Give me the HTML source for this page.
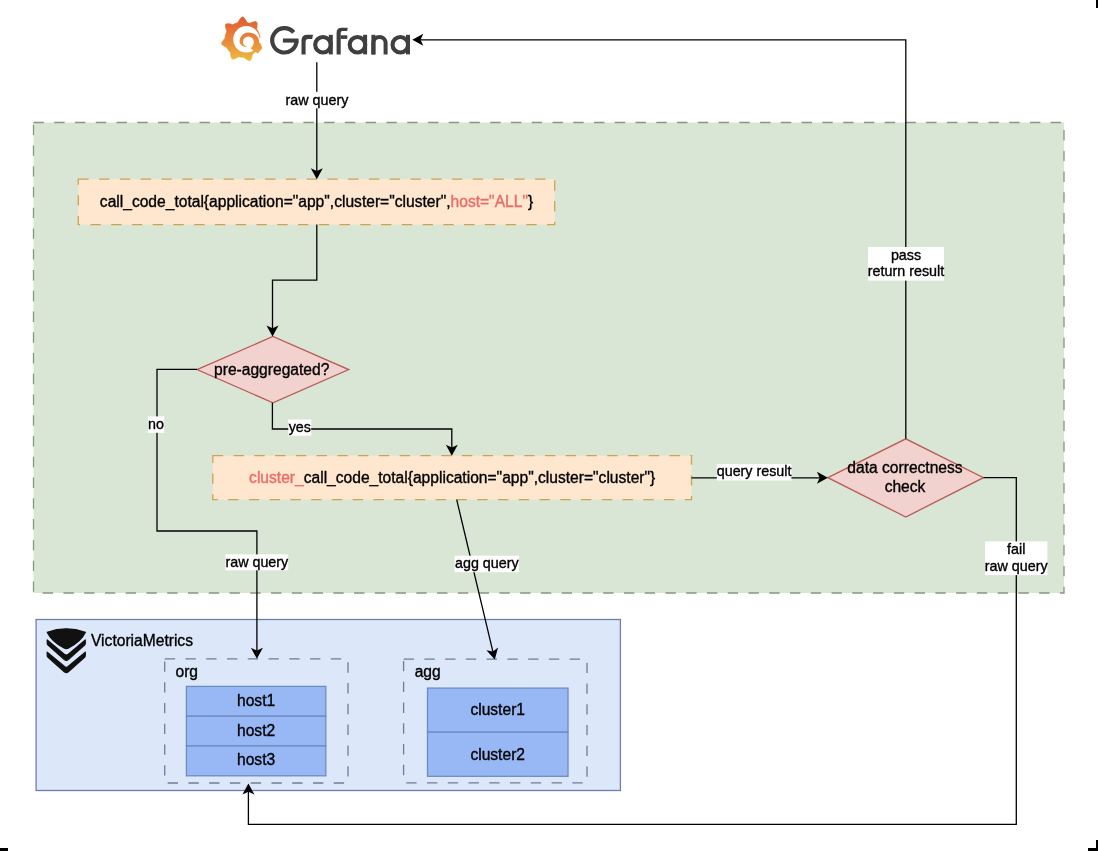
<!DOCTYPE html>
<html>
<head>
<meta charset="utf-8">
<style>
html,body{margin:0;padding:0;background:#fff;width:1098px;height:851px;overflow:hidden;}
svg{display:block;will-change:transform;}
text{font-family:"Liberation Sans",sans-serif;fill:#000;stroke:#000;stroke-width:0.35px;}
tspan.r{fill:#ea6b66;stroke:#ea6b66;}
.sl{font-size:15.6px;}
.el{font-size:14.3px;}
.ln{fill:none;stroke:#000;stroke-width:1.3;}
</style>
</head>
<body>
<svg width="1098" height="851" viewBox="0 0 1098 851">
<defs>
<linearGradient id="gg" gradientUnits="userSpaceOnUse" x1="0" y1="17" x2="0" y2="61"><stop offset="0" stop-color="#e05a32"/><stop offset="0.5" stop-color="#e8853a"/><stop offset="1" stop-color="#edbb3e"/></linearGradient>
<linearGradient id="gg2" gradientUnits="userSpaceOnUse" x1="0" y1="30" x2="0" y2="54"><stop offset="0" stop-color="#f26b26"/><stop offset="1" stop-color="#f7a81a"/></linearGradient>
</defs>

<!-- corner marks -->
<rect x="1096" y="0" width="2" height="8" fill="#000"/>
<rect x="0" y="848" width="8" height="3" fill="#000"/>
<rect x="1096" y="840" width="2" height="11" fill="#000"/>
<rect x="1088" y="848" width="10" height="3" fill="#000"/>

<!-- green container -->
<rect x="33.5" y="122.5" width="1030.5" height="470.5" fill="#d9e6d5" stroke="#84987a" stroke-width="1.3" stroke-dasharray="10.38 10.38"/>

<!-- blue container -->
<rect x="36.1" y="619.5" width="584.3" height="171" fill="#dce7f9" stroke="#6d80a8" stroke-width="1.3"/>

<!-- GRAFANA -->
<g id="grafana">
<path d="M223.91 39.60 L224.33 39.12 L224.76 38.67 L224.95 38.22 L225.00 37.76 L225.05 37.30 L225.12 36.85 L225.19 36.39 L225.28 35.94 L225.39 35.49 L225.50 35.04 L225.62 34.60 L225.76 34.16 L225.91 33.72 L226.07 33.29 L226.24 32.86 L226.42 32.44 L226.61 32.02 L226.82 31.61 L226.73 31.04 L226.46 30.34 L226.22 29.62 L226.00 28.89 L225.82 28.13 L225.66 27.36 L225.53 26.58 L225.43 25.77 L225.36 24.96 L225.70 24.48 L226.11 24.04 L226.64 23.74 L227.46 23.75 L228.26 23.79 L229.05 23.86 L229.83 23.96 L230.60 24.09 L231.34 24.24 L232.08 24.43 L232.79 24.65 L233.30 24.59 L233.70 24.36 L234.10 24.13 L234.51 23.92 L234.92 23.71 L235.34 23.52 L235.76 23.34 L236.19 23.17 L236.62 23.01 L237.06 22.86 L237.50 22.72 L237.94 22.60 L238.26 21.93 L238.60 21.26 L238.98 20.60 L239.39 19.95 L239.83 19.30 L240.30 18.67 L240.80 18.04 L241.34 17.43 L241.91 17.01 L242.50 17.00 L243.09 17.01 L243.66 17.43 L244.20 18.04 L244.70 18.67 L245.17 19.30 L245.61 19.95 L246.02 20.60 L246.40 21.26 L246.74 21.93 L247.06 22.60 L247.50 22.72 L247.94 22.86 L248.38 23.01 L248.81 23.17 L249.24 23.34 L249.76 23.29 L250.43 22.98 L251.11 22.71 L251.81 22.45 L252.53 22.22 L253.27 22.02 L254.03 21.85 L254.80 21.70 L255.59 21.58 L256.14 21.83 L256.60 22.19 L256.99 22.64 L257.06 23.43 L257.10 24.22 L257.10 25.00 L257.08 25.76 L257.03 26.52 L256.95 27.26 L256.84 27.99 L256.70 28.71 L256.74 29.25 L257.00 29.63 L257.26 30.01 L257.51 30.40 L257.74 30.80 L257.97 31.20 L258.18 31.61 L258.39 32.02 L258.58 32.44 L258.76 32.86 L258.93 33.29 L259.09 33.72 L259.24 34.16 L259.38 34.60 L259.50 35.04 L259.61 35.49 L259.72 35.94 L259.81 36.39 L259.88 36.85 L259.95 37.30 L260.00 37.76 L260.05 38.22 L260.08 38.68 L260.09 39.14 L260.10 39.60 L260.09 40.06 L260.08 40.52 L260.05 40.98 L260.00 41.44 L259.95 41.90 L259.88 42.35 L259.81 42.81 L260.07 43.34 L260.35 43.89 L260.61 44.45 L260.85 45.04 L261.07 45.63 L261.28 46.25 L261.46 46.88 L261.63 47.52 L261.68 48.14 L261.45 48.64 L261.21 49.13 L260.74 49.50 L260.13 49.78 L259.53 50.04 L258.92 50.26 L258.32 50.47 L257.71 50.65 L257.10 50.81 L256.50 50.94 L255.90 51.05 L255.58 51.38 L255.27 51.72 L254.95 52.05 L254.62 52.37 L254.28 52.68 L253.93 52.98 L253.58 53.28 L253.21 53.56 L252.85 53.84 L252.47 54.10 L252.34 54.75 L252.21 55.45 L252.06 56.16 L251.87 56.86 L251.66 57.58 L251.41 58.29 L251.14 59.00 L250.83 59.70 L250.46 60.33 L249.91 60.53 L249.36 60.71 L248.72 60.60 L248.03 60.25 L247.37 59.87 L246.72 59.47 L246.11 59.06 L245.51 58.62 L244.94 58.17 L244.40 57.70 L243.89 57.22 L243.42 57.18 L242.96 57.19 L242.50 57.20 L242.04 57.19 L241.58 57.18 L241.12 57.15 L240.66 57.10 L240.20 57.05 L239.75 56.98 L239.29 56.91 L238.84 56.82 L238.35 56.87 L237.78 57.22 L237.18 57.56 L236.56 57.87 L235.93 58.16 L235.27 58.44 L234.59 58.69 L233.90 58.91 L233.19 59.12 L232.60 59.02 L232.10 58.76 L231.61 58.47 L231.37 57.76 L231.16 57.06 L230.98 56.36 L230.83 55.66 L230.71 54.97 L230.61 54.28 L230.55 53.60 L230.51 52.92 L230.38 52.37 L230.05 52.05 L229.73 51.72 L229.42 51.38 L229.12 51.03 L228.82 50.68 L228.54 50.31 L228.26 49.95 L228.00 49.57 L227.74 49.19 L227.49 48.80 L227.26 48.40 L227.03 48.00 L226.82 47.59 L226.39 47.28 L225.82 47.03 L225.25 46.75 L224.68 46.44 L224.11 46.11 L223.56 45.76 L223.00 45.37 L222.46 44.97 L221.92 44.54 L221.76 44.01 L221.65 43.46 L221.68 42.90 L222.01 42.30 L222.36 41.72 L222.73 41.16 L223.11 40.62 L223.50 40.10 Z" fill="url(#gg)" stroke="url(#gg)" stroke-width="0.8" stroke-linejoin="round"/>
<circle cx="246.4" cy="39.3" r="13.2" fill="#fff"/>
<path d="M250 40 L268 36.6 L268 45.5 Z" fill="#fff"/>
<path d="M248.4 47.2 C243.6 47.4 239.6 44.8 239.6 41.6 C239.6 36.4 243.6 32.4 248.3 32.4 C254.6 32.4 259.2 36.6 259.2 42.2 C259.2 46.2 257.6 49.6 254.8 51.8 L250.6 48.2 C252.6 46.8 253.8 44.4 253.8 41.8 A5.4 5.4 0 0 0 243.0 41.8 C243.0 44.6 245.4 46.8 248.4 47.2 Z" fill="url(#gg)"/>
<path d="M254 51.5 L259.8 45.2 L262 48 L258 53.5 Z" fill="url(#gg)"/>
<g fill="#3f3f3f">
<path d="M293.7 32.4 A12.2 12.2 0 1 0 296.6 40.6" fill="none" stroke="#3f3f3f" stroke-width="4.1"/>
<rect x="282.9" y="38.5" width="15.6" height="4.1"/>
<path d="M301.5 54.4 V40.5 Q301.5 34.8 307.3 34.8 H313.0 L312.2 38.9 H307.8 Q305.6 38.9 305.6 41.4 V54.4 Z"/>
<circle cx="322.95" cy="44.75" r="7.75" fill="none" stroke="#3f3f3f" stroke-width="4.1"/>
<rect x="328.8" y="34.8" width="4.0" height="19.6"/>
<path d="M336.6 54.4 V32.6 Q336.6 27.7 341.6 27.7 H347.7 L347.2 30.9 H342.4 Q340.7 30.9 340.7 33.0 V54.4 Z"/>
<rect x="340.6" y="35.3" width="6.7" height="3.6"/>
<circle cx="357.45" cy="44.75" r="7.75" fill="none" stroke="#3f3f3f" stroke-width="4.1"/>
<rect x="363.1" y="34.8" width="4.0" height="19.6"/>
<rect x="371.4" y="34.8" width="4.0" height="19.6"/>
<path d="M373.4 54.4 V43.0 A5.9 5.9 0 0 1 385.6 43.0 V54.4" fill="none" stroke="#3f3f3f" stroke-width="4.0"/>
<circle cx="400.3" cy="44.75" r="7.75" fill="none" stroke="#3f3f3f" stroke-width="4.1"/>
<rect x="406.0" y="34.8" width="4.0" height="19.6"/>
</g>
</g>

<!-- VM logo -->
<g id="vmlogo" fill="#111" stroke="#111" stroke-width="1.2" stroke-linejoin="round">
<path d="M47.2 632.2 Q66.3 625.4 85.4 632.2 Q81 641.5 68.6 647.9 Q66.3 649.2 64 647.9 Q51.6 641.5 47.2 632.2 Z"/>
<path d="M47.2 639.9 L64.8 654.6 Q66.3 655.6 67.8 654.6 L85.3 639.9 L85.3 643.6 Q85.3 644.4 84.6 645 L68.3 659.6 Q66.3 661.2 64.3 659.6 L48 645 Q47.2 644.4 47.2 643.6 Z"/>
<path d="M47.2 652.1 L64.8 666.8 Q66.3 667.8 67.8 666.8 L85.3 652.1 L85.3 655.8 Q85.3 656.6 84.6 657.2 L68.3 671.8 Q66.3 673.4 64.3 671.8 L48 657.2 Q47.2 656.6 47.2 655.8 Z"/>
</g>

<!-- boxes -->
<rect x="78.3" y="179.2" width="476.4" height="45.4" fill="#fee6cf" stroke="#cda44e" stroke-width="1.3" stroke-dasharray="10.38 10.38"/>
<text class="sl" x="316.5" y="206.6" text-anchor="middle">call_code_total{application="app",cluster="cluster",<tspan class="r">host="ALL"</tspan>}</text>

<rect x="212.8" y="455.7" width="478.7" height="44" fill="#fee6cf" stroke="#cda44e" stroke-width="1.3" stroke-dasharray="10.38 10.38"/>
<text class="sl" x="452.2" y="482.8" text-anchor="middle"><tspan class="r">cluster_</tspan>call_code_total{application="app",cluster="cluster"}</text>

<!-- diamonds -->
<path d="M197 369.6 L272.9 336.5 L348.7 369.6 L272.9 402.8 Z" fill="#f1d2ce" stroke="#b95a55" stroke-width="1.3"/>
<text class="sl" x="271.7" y="374.9" text-anchor="middle">pre-aggregated?</text>

<path d="M827.9 477.7 L905.8 438.8 L983.5 477.7 L905.8 517 Z" fill="#f1d2ce" stroke="#b95a55" stroke-width="1.3"/>
<text class="sl" x="905.0" y="473.2" text-anchor="middle">data correctness</text>
<text class="sl" x="905.0" y="492.0" text-anchor="middle">check</text>

<!-- org / agg containers -->
<rect x="164.7" y="658.8" width="183.3" height="124.2" fill="none" stroke="#6f7d9c" stroke-width="1.3" stroke-dasharray="10.38 10.38"/>
<text class="sl" x="175.5" y="676.6">org</text>
<rect x="186.4" y="686.4" width="139.4" height="29.8" fill="#97b8f5" stroke="#6f8cc2" stroke-width="1.3"/>
<rect x="186.4" y="716.2" width="139.4" height="29.8" fill="#97b8f5" stroke="#6f8cc2" stroke-width="1.3"/>
<rect x="186.4" y="746" width="139.4" height="29.8" fill="#97b8f5" stroke="#6f8cc2" stroke-width="1.3"/>
<text class="sl" x="256.1" y="705.6" text-anchor="middle">host1</text>
<text class="sl" x="256.1" y="735.6" text-anchor="middle">host2</text>
<text class="sl" x="256.1" y="765.1" text-anchor="middle">host3</text>

<rect x="403.6" y="659.2" width="183.4" height="123.7" fill="none" stroke="#6f7d9c" stroke-width="1.3" stroke-dasharray="10.38 10.38"/>
<text class="sl" x="414.7" y="676.8">agg</text>
<rect x="427.5" y="688.1" width="140.5" height="44.1" fill="#97b8f5" stroke="#6f8cc2" stroke-width="1.3"/>
<rect x="427.5" y="732.2" width="140.5" height="44.1" fill="#97b8f5" stroke="#6f8cc2" stroke-width="1.3"/>
<text class="sl" x="497.7" y="715.3" text-anchor="middle">cluster1</text>
<text class="sl" x="497.7" y="759.6" text-anchor="middle">cluster2</text>

<text class="sl" x="91" y="646">VictoriaMetrics</text>

<!-- edges -->
<g id="edges">
<path class="ln" d="M316.80 62.30 L316.80 172.20"/><path d="M316.80 179.20 L310.80 168.20 L316.80 171.00 L322.80 168.20 Z" fill="#000"/>
<rect x="285.5" y="91.8" width="63.00" height="16.50" fill="#fff"/><text class="el" x="317.00" y="105" text-anchor="middle">raw query</text>
<path class="ln" d="M316.80 224.60 L316.80 280.20 L272.50 280.20 L272.50 329.50"/><path d="M272.50 336.50 L266.50 325.50 L272.50 328.30 L278.50 325.50 Z" fill="#000"/>
<path class="ln" d="M197.00 369.40 L157.00 369.40 L157.00 531.00 L256.90 531.00 L256.90 651.80"/><path d="M256.90 658.80 L250.90 647.80 L256.90 650.60 L262.90 647.80 Z" fill="#000"/>
<rect x="147.9" y="416.4" width="16.20" height="16.40" fill="#fff"/><text class="el" x="156.00" y="429.3" text-anchor="middle">no</text>
<rect x="225.5" y="554.4" width="62.70" height="15.90" fill="#fff"/><text class="el" x="256.85" y="566.9" text-anchor="middle">raw query</text>
<path class="ln" d="M272.40 402.80 L272.40 429.00 L451.80 429.00 L451.80 448.70"/><path d="M451.80 455.70 L445.80 444.70 L451.80 447.50 L457.80 444.70 Z" fill="#000"/>
<rect x="288.3" y="419.5" width="22.90" height="16.20" fill="#fff"/><text class="el" x="299.75" y="431.5" text-anchor="middle">yes</text>
<path class="ln" d="M691.50 477.80 L820.90 477.80"/><path d="M827.90 477.80 L816.90 483.80 L819.70 477.80 L816.90 471.80 Z" fill="#000"/>
<rect x="716.8" y="464.2" width="74.60" height="16.30" fill="#fff"/><text class="el" x="754.10" y="476" text-anchor="middle">query result</text>
<path class="ln" d="M905.80 438.80 L905.80 39.80 L419.30 39.80"/><path d="M412.30 39.80 L423.30 33.80 L420.50 39.80 L423.30 45.80 Z" fill="#000"/>
<rect x="868" y="247" width="76.00" height="33.60" fill="#fff"/><text class="el" x="906.00" y="259.5" text-anchor="middle">pass</text><text class="el" x="906.00" y="276.3" text-anchor="middle">return result</text>
<path class="ln" d="M983.50 477.60 L1016.30 477.60 L1016.30 824.30 L248.40 824.30 L248.40 790.50"/><path d="M248.40 783.50 L254.40 794.50 L248.40 791.70 L242.40 794.50 Z" fill="#000"/>
<rect x="985" y="541.4" width="62.40" height="33.70" fill="#fff"/><text class="el" x="1016.20" y="554.1" text-anchor="middle">fail</text><text class="el" x="1016.20" y="571" text-anchor="middle">raw query</text>
<path class="ln" d="M456.70 499.70 L493.18 652.79"/><path d="M494.80 659.60 L486.41 650.29 L492.90 651.62 L498.09 647.51 Z" fill="#000"/>
<rect x="454.7" y="555.7" width="64.20" height="16.50" fill="#fff"/><text class="el" x="486.80" y="568" text-anchor="middle">agg query</text>
</g>
</svg>
</body>
</html>
